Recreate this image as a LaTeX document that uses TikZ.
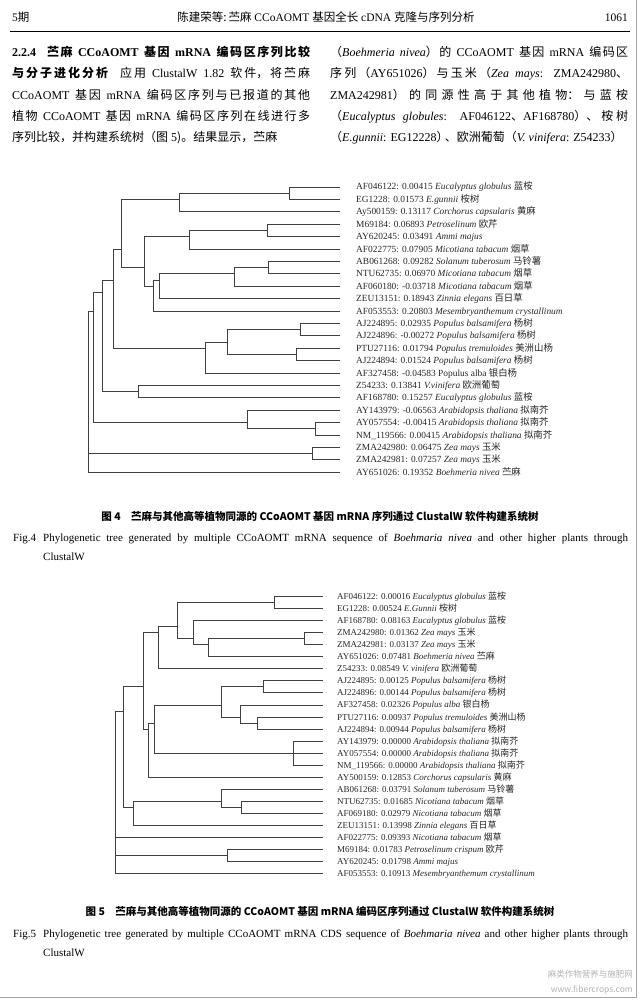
\documentclass[tikz,border=0pt]{standalone}
\usepackage{fontspec}
\setmainfont{Liberation Serif}
\newfontfamily\cjkfont{Noto Sans CJK SC}
\newcommand{\zh}[1]{{\cjkfont #1}}
\usetikzlibrary{positioning}
\XeTeXlinebreaklocale "zh"
\XeTeXlinebreakskip=0pt plus 1pt minus 0.6pt

% inner node of a tree: name, x, first leaf, last leaf
\NewDocumentCommand{\clade}{mmmm}{%
\coordinate (#1) at (#2,{\ytop+((#3)+(#4)-2)/2*\ygap});%
}

\tikzset{
  branch/.style={draw=black!75, line width=0.9pt},
  leaftext/.style={anchor=base west, inner sep=0pt, text=black!85, font=\fontsize{#1}{10}\selectfont},
  bodytext/.style={anchor=north west, inner sep=0pt, text width=298pt, align=justify,
    font=\fontsize{12}{21.3}\selectfont},
  capzh/.style={anchor=base, inner sep=0pt, font=\cjkfont\bfseries\fontsize{10.5}{12}\selectfont},
  capen/.style={anchor=base west, inner sep=0pt, font=\fontsize{11}{13}\selectfont},
  headtext/.style={inner sep=0pt, font=\fontsize{11.5}{13}\selectfont},
  wmark/.style={anchor=base east, inner sep=0pt, text=black!30, font=\cjkfont\fontsize{8.5}{10}\selectfont},
}

\begin{document}
\begin{tikzpicture}[x=1pt,y=-1pt]
\useasboundingbox (0,0) rectangle (640,1000);
\draw[black!35, line width=1pt] (636,0) -- (636,997) -- (0,997);

% Running head.
\node[headtext, anchor=base west] (hdno) at (12,22) {5\zh{期}};
\node[headtext, anchor=base] (hdtitle) at (326,22) {\zh{陈建荣等:\,苎麻} CCoAOMT \zh{基因全长} cDNA \zh{克隆与序列分析}};
\node[headtext, anchor=base east] (hdpage) at (628,22) {1061};
\draw[line width=0.8pt] (10,31) -- (630,31);

% Two columns of body text.
\node[bodytext] (colleft) at (12,46) {\parfillskip=0pt
{\bfseries 2.2.4\ \ \zh{苎麻} CCoAOMT \zh{基因} mRNA \zh{编码区序列比较}\linebreak
\zh{与分子进化分析}}\quad\zh{应用} ClustalW 1.82 \zh{软件，将苎麻}\linebreak
CCoAOMT \zh{基因} mRNA \zh{编码区序列与已报道的其他}\linebreak
\zh{植物} CCoAOMT \zh{基因} mRNA \zh{编码区序列在线进行多}\linebreak
\zh{序列比较，并构建系统树（图} 5\zh{)。结果显示，苎麻}};
\node[bodytext] (colright) at (330,46) {\parfillskip=0pt
\zh{（}\textit{Boehmeria nivea}\zh{）的} CCoAOMT \zh{基因} mRNA \zh{编码区}\linebreak
\zh{序列（}AY651026\zh{）与玉米（}\textit{Zea mays}: ZMA242980\zh{、}\linebreak
ZMA242981\zh{）的同源性高于其他植物：与蓝桉}\linebreak
\zh{（}\textit{Eucalyptus globules}: AF046122\zh{、}AF168780\zh{）、桉树}\linebreak
\zh{（}\textit{E.gunnii}: EG12228\zh{）\kern-0.3em、欧洲葡萄（}\textit{V. vinifera}: Z54233\zh{）}};

% Fig. 4 tree.
\begin{scope}
\def\ytop{187}\def\ygap{12.4}
\foreach \lab [count=\i] in {
  {AF046122: 0.00415 \textit{Eucalyptus globulus} \zh{蓝桉}},
  {EG1228: 0.01573 \textit{E.gunnii} \zh{桉树}},
  {Ay500159: 0.13117 \textit{Corchorus capsularis} \zh{黄麻}},
  {M69184: 0.06893 \textit{Petroselinum} \zh{欧芹}},
  {AY620245: 0.03491 \textit{Ammi majus}},
  {AF022775: 0.07905 \textit{Micotiana tabacum} \zh{烟草}},
  {AB061268: 0.09282 \textit{Solanum tuberosum} \zh{马铃薯}},
  {NTU62735: 0.06970 \textit{Micotiana tabacum} \zh{烟草}},
  {AF060180: -0.03718 \textit{Micotiana tabacum} \zh{烟草}},
  {ZEU13151: 0.18943 \textit{Zinnia elegans} \zh{百日草}},
  {AF053553: 0.20803 \textit{Mesembryanthemum crystallinum}},
  {AJ224895: 0.02935 \textit{Populus balsamifera} \zh{杨树}},
  {AJ224896: -0.00272 \textit{Populus balsamifera} \zh{杨树}},
  {PTU27116: 0.01794 \textit{Populus tremuloides} \zh{美洲山杨}},
  {AJ224894: 0.01524 \textit{Populus balsamifera} \zh{杨树}},
  {AF327458: -0.04583 Populus alba \zh{银白杨}},
  {Z54233: 0.13841 \textit{V.vinifera} \zh{欧洲葡萄}},
  {AF168780: 0.15257 \textit{Eucalyptus globulus} \zh{蓝桉}},
  {AY143979: -0.06563 \textit{Arabidopsis thaliana} \zh{拟南芥}},
  {AY057554: -0.00415 \textit{Arabidopsis thaliana} \zh{拟南芥}},
  {NM\_119566: 0.00415 \textit{Arabidopsis thaliana} \zh{拟南芥}},
  {ZMA242980: 0.06475 \textit{Zea mays} \zh{玉米}},
  {ZMA242981: 0.07257 \textit{Zea mays} \zh{玉米}},
  {AY651026: 0.19352 \textit{Boehmeria nivea} \zh{苎麻}}} {
  \coordinate (fa\i) at (340,{\ytop+(\i-1)*\ygap});
  \node[leaftext=9.4] (fal\i) at (356,{\ytop+(\i-1)*\ygap+3}) {\lab};
}
\clade{A}{289}{1}{2}   \clade{B}{179}{1}{3}
\clade{C}{267}{4}{5}   \clade{D}{189}{4}{6}
\clade{E}{268}{7}{8}   \clade{F}{234}{7}{9}
\clade{G}{159}{7}{10}  \clade{H}{153}{7}{11}
\clade{I}{144}{4}{11}  \clade{J}{121}{1}{11}
\clade{P}{300}{12}{13} \clade{R}{296}{14}{15}
\clade{Q}{227}{12}{15} \clade{S}{205}{12}{16}
\clade{K}{113}{1}{16}  \clade{T}{138}{17}{18}
\clade{L}{102}{1}{18}  \clade{V}{315}{20}{21}
\clade{U}{247}{19}{21} \clade{M}{93}{1}{21}
\clade{W}{312}{22}{23} \clade{N}{88}{1}{24}
\foreach \p/\c in {A/fa1,A/fa2,B/A,B/fa3,C/fa4,C/fa5,D/C,D/fa6,
  E/fa7,E/fa8,F/E,F/fa9,G/F,G/fa10,H/G,H/fa11,I/D,I/H,J/B,J/I,
  P/fa12,P/fa13,R/fa14,R/fa15,Q/P,Q/R,S/Q,S/fa16,K/J,K/S,
  T/fa17,T/fa18,L/K,L/T,V/fa20,V/fa21,U/fa19,U/V,M/L,M/U,
  W/fa22,W/fa23,N/M,N/W,N/fa24}
  \draw[branch] (\p) |- (\c);
\end{scope}

% Fig. 4 caption.
\node[capzh] (capzha) at (320,520) {图 4\quad 苎麻与其他高等植物同源的 CCoAOMT 基因 mRNA 序列通过 ClustalW 软件构建系统树};
\node[capen] (capnoa) at (13,541) {Fig.4};
\node[capen] (capena) at (43,541) {\makebox[585pt][s]{Phylogenetic tree generated by multiple CCoAOMT mRNA sequence of \textit{Boehmaria nivea} and other higher plants through}};
\node[capen] (capenb) at (43,560) {ClustalW};

% Fig. 5 tree.
\begin{scope}
\def\ytop{596.7}\def\ygap{12.03}
\foreach \lab [count=\i] in {
  {AF046122: 0.00016 \textit{Eucalyptus globulus} \zh{蓝桉}},
  {EG1228: 0.00524 \textit{E.Gunnii} \zh{桉树}},
  {AF168780: 0.08163 \textit{Eucalyptus globulus} \zh{蓝桉}},
  {ZMA242980: 0.01362 \textit{Zea mays} \zh{玉米}},
  {ZMA242981: 0.03137 \textit{Zea mays} \zh{玉米}},
  {AY651026: 0.07481 \textit{Boehmeria nivea} \zh{苎麻}},
  {Z54233: 0.08549 \textit{V. vinifera} \zh{欧洲葡萄}},
  {AJ224895: 0.00125 \textit{Populus balsamifera} \zh{杨树}},
  {AJ224896: 0.00144 \textit{Populus balsamifera} \zh{杨树}},
  {AF327458: 0.02326 \textit{Populus alba} \zh{银白杨}},
  {PTU27116: 0.00937 \textit{Populus tremuloides} \zh{美洲山杨}},
  {AJ224894: 0.00944 \textit{Populus balsamifera} \zh{杨树}},
  {AY143979: 0.00000 \textit{Arabidopsis thaliana} \zh{拟南芥}},
  {AY057554: 0.00000 \textit{Arabidopsis thaliana} \zh{拟南芥}},
  {NM\_119566: 0.00000 \textit{Arabidopsis thaliana} \zh{拟南芥}},
  {AY500159: 0.12853 \textit{Corchorus capsularis} \zh{黄麻}},
  {AB061268: 0.03791 \textit{Solanum tuberosum} \zh{马铃薯}},
  {NTU62735: 0.01685 \textit{Nicotiana tabacum} \zh{烟草}},
  {AF069180: 0.02979 \textit{Nicotiana tabacum} \zh{烟草}},
  {ZEU13151: 0.13998 \textit{Zinnia elegans} \zh{百日草}},
  {AF022775: 0.09393 \textit{Nicotiana tabacum} \zh{烟草}},
  {M69184: 0.01783 \textit{Petroselinum crispum} \zh{欧芹}},
  {AY620245: 0.01798 \textit{Ammi majus}},
  {AF053553: 0.10913 \textit{Mesembryanthemum crystallinum}}} {
  \coordinate (fb\i) at (323,{\ytop+(\i-1)*\ygap});
  \node[leaftext=9] (fbl\i) at (337,{\ytop+(\i-1)*\ygap+3}) {\lab};
}
\clade{a}{274}{1}{2}   \clade{e}{304}{4}{5}
\clade{d}{208}{4}{6}   \clade{c}{193}{3}{6}
\clade{b}{177}{1}{6}   \clade{f}{158}{1}{7}
\clade{h}{263}{8}{9}   \clade{i}{257}{11}{12}
\clade{j}{240}{10}{12} \clade{k}{221}{8}{12}
\clade{l}{293}{13}{15} \clade{m}{154}{8}{15}
\clade{n}{148}{8}{16}  \clade{g}{143}{1}{16}
\clade{r}{241}{18}{19} \clade{q}{221}{17}{19}
\clade{p}{133}{17}{20} \clade{o}{123}{1}{20}
\clade{t}{227}{22}{23} \clade{s}{115}{1}{24}
\foreach \p/\c in {a/fb1,a/fb2,e/fb4,e/fb5,d/e,d/fb6,c/fb3,c/d,b/a,b/c,f/b,f/fb7,
  h/fb8,h/fb9,i/fb11,i/fb12,j/fb10,j/i,k/h,k/j,l/fb13,l/fb14,l/fb15,
  m/k,m/l,n/m,n/fb16,g/f,g/n,r/fb18,r/fb19,q/fb17,q/r,p/q,p/fb20,
  o/g,o/p,t/fb22,t/fb23,s/o,s/fb21,s/t,s/fb24}
  \draw[branch] (\p) |- (\c);
\end{scope}

% Fig. 5 caption.
\node[capzh] (capzhb) at (320,915) {图 5\quad 苎麻与其他高等植物同源的 CCoAOMT 基因 mRNA 编码区序列通过 ClustalW 软件构建系统树};
\node[capen] (capnob) at (13,937) {Fig.5};
\node[capen] (capenc) at (43,937) {\makebox[585pt][s]{Phylogenetic tree generated by multiple CCoAOMT mRNA CDS sequence of \textit{Boehmaria nivea} and other higher plants through}};
\node[capen] (capend) at (43,956) {ClustalW};

% Watermark.
\node[wmark] (wmzh) at (633,977) {麻类作物营养与施肥网};
\node[wmark] (wmurl) at (633,992) {www.fibercrops.com};
\end{tikzpicture}
\end{document}
